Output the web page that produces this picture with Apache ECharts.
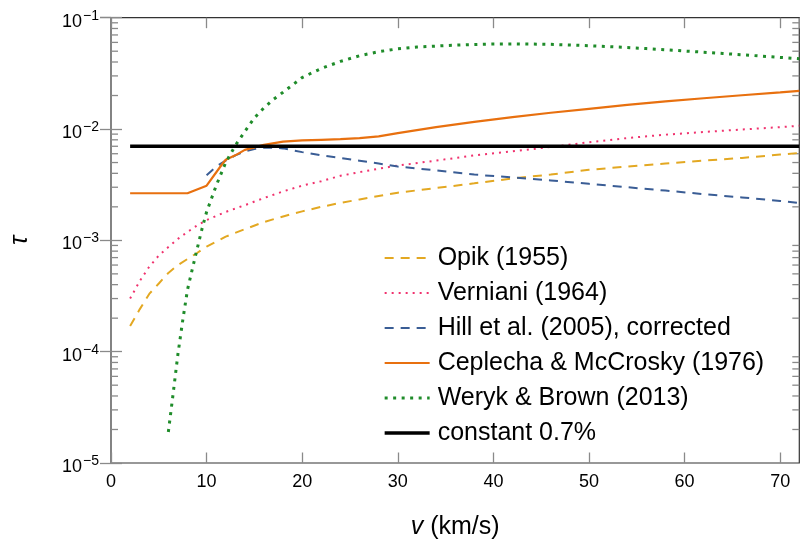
<!DOCTYPE html>
<html>
<head>
<meta charset="utf-8">
<script src="https://cdn.jsdelivr.net/npm/echarts@6/dist/echarts.min.js"></script>
<style>
html,body{margin:0;padding:0;background:#fff;}
#chart{width:800px;height:545px;}
</style>
</head>
<body>
<div id="chart"></div>
<script>
// ---------- data ----------
const seriesNames = ['Opik (1955)', 'Verniani (1964)', 'Hill et al. (2005), corrected',
  'Ceplecha & McCrosky (1976)', 'Weryk & Brown (2013)', 'constant 0.7%'];

const opikV   = [2,3,4,5,6,7,8,9,10,12,14,16,18,20,22,24,26,28,30,34,38,42,46,50,54,58,62,66,70,72];
const opikTau = [0.00017,0.00024,0.00033,0.00041,0.00051,0.0006,0.00068,0.00077,0.00088,0.00108,0.00126,0.00146,0.00164,0.00182,0.002,0.00217,0.00233,0.0025,0.00268,0.00295,0.00325,0.0036,0.0039,0.0043,0.0046,0.0049,0.0052,0.0055,0.0059,0.0061];

const verV   = [2,3,4,5,6,7,8,9,10,12,14,16,18,20,22,24,26,28,30,34,38,42,46,50,54,58,62,66,70,72];
const verTau = [0.0003,0.00043,0.00058,0.00073,0.00087,0.00103,0.00119,0.00136,0.00152,0.0018,0.00207,0.0024,0.00275,0.0031,0.0034,0.0038,0.0041,0.0044,0.0047,0.0052,0.0058,0.0063,0.0069,0.0076,0.0083,0.0089,0.0094,0.0099,0.0104,0.0107];

const hillV   = [10,11,12,13,14,15,16,17,18,20,22,24,26,28,30,34,38,42,46,50,54,58,62,66,70,72];
const hillTau = [0.00385,0.0046,0.0052,0.0058,0.0063,0.0066,0.0068,0.0068,0.0067,0.0062,0.0058,0.0055,0.0052,0.0049,0.0046,0.00425,0.0039,0.00367,0.00345,0.00322,0.003,0.0028,0.0026,0.00243,0.00226,0.00216];

const cepV   = [2,8,10,11.6,12,13,14,16,18,20,22,24,26,28,30,34,38,42,46,50,54,58,62,66,70,72];
const cepTau = [0.00265,0.00265,0.0031,0.0048,0.0053,0.0058,0.0065,0.0072,0.0077,0.0079,0.008,0.0081,0.0083,0.0086,0.0092,0.0104,0.0116,0.0128,0.014,0.0152,0.0165,0.0177,0.0189,0.0201,0.0213,0.022];

const wbV   = [6,6.5,7,7.5,8,8.5,9,9.5,10,11,12,13,14,15,16,17,18,20,22,24,26,28,30,32,34,36,38,40,42,44,46,48,50,52,54,56,58,60,62,64,66,68,70,72];
const wbTau = [1.9e-5,4.2e-5,9.5e-5,0.00019,0.00036,0.00055,0.00083,0.00125,0.0018,0.0031,0.005,0.0071,0.0095,0.0126,0.0155,0.0185,0.0214,0.029,0.035,0.0405,0.0455,0.0495,0.0525,0.0545,0.0556,0.0567,0.0575,0.058,0.0582,0.058,0.0576,0.0569,0.056,0.055,0.054,0.0528,0.0515,0.0502,0.049,0.0477,0.0465,0.0452,0.044,0.0428];

const constV   = [2, 72];
const constTau = [0.007, 0.007];

const minorMult = [2,3,4,5,6,7,8,9];
const decades = [-5,-4,-3,-2];

// ---------- helpers ----------
const zip = (a, b) => a.map((v, i) => [v, b[i]]);
const minorVals = [];
decades.forEach(d => minorMult.forEach(m => minorVals.push(m * Math.pow(10, d))));

const FONT = 'Liberation Sans';
const colors = ['#e3a822', '#f0326e', '#3a5d95', '#e8700f', '#1f8c2a', '#000000'];
const widths = [2, 2, 2, 2.2, 3, 3.3];
const types = [[9, 7], [2, 5], [9, 7], 'solid', [3, 5.5], 'solid'];
const datasets = [zip(opikV, opikTau), zip(verV, verTau), zip(hillV, hillTau),
                  zip(cepV, cepTau), zip(wbV, wbTau), zip(constV, constTau)];

function lineSeries(i) {
  return {
    name: seriesNames[i], type: 'line', data: datasets[i], symbol: 'none', showSymbol: false,
    xAxisIndex: 0, yAxisIndex: 0,
    lineStyle: { color: colors[i], width: widths[i], type: types[i], cap: 'butt' },
    itemStyle: { color: colors[i] },
    emphasis: { disabled: true }, silent: true, z: 3
  };
}

const chart = echarts.init(document.getElementById('chart'), null, { renderer: 'canvas' });

const option = {
  animation: false,
  backgroundColor: '#fff',
  textStyle: { fontFamily: FONT },
  grid: { left: 102.7, top: 17.7, width: 696.6, height: 451.6, show: true,
          borderColor: '#333', borderWidth: 1.2, backgroundColor: 'transparent' },
  legend: {
    data: seriesNames.map((n, i) => ({
      name: n,
      itemStyle: { opacity: 0 },
      lineStyle: { color: colors[i], width: widths[i], type: types[i], cap: 'butt' }
    })),
    orient: 'vertical',
    left: 383, top: 243, padding: 0,
    itemWidth: 45, itemHeight: 14, itemGap: 5,
    itemStyle: { opacity: 0 },
    textStyle: { fontFamily: FONT, fontSize: 25, color: '#000', lineHeight: 30, padding: [0,0,0,3] },
    selectedMode: false
  },
  xAxis: [{
    type: 'value', min: 0, max: 72, interval: 10, position: 'bottom',
    name: '{i|v} (km/s)', nameLocation: 'middle', nameGap: 52,
    nameTextStyle: { fontFamily: FONT, fontSize: 25, color: '#000',
      rich: { i: { fontFamily: FONT, fontSize: 25, fontStyle: 'italic', color: '#000' } } },
    axisLine: { show: false },
    axisTick: { show: true, inside: true, length: 10.5, lineStyle: { color: '#8a8a8a', width: 1.3 } },
    axisLabel: { fontFamily: FONT, fontSize: 18, color: '#000', margin: 10, showMaxLabel: false },
    splitLine: { show: false }
  }, {
    type: 'value', min: 0, max: 72, interval: 10, position: 'top',
    axisLine: { show: false },
    axisTick: { show: true, inside: true, length: 10.5, lineStyle: { color: '#8a8a8a', width: 1.3 } },
    axisLabel: { show: false },
    splitLine: { show: false }
  }],
  yAxis: [{
    type: 'log', logBase: 10, min: 1e-5, max: 1e-1, interval: 1, position: 'left',
    name: 'τ', nameLocation: 'middle', nameGap: 78, nameRotate: 90,
    nameTextStyle: { fontFamily: FONT, fontSize: 25, fontStyle: 'italic', color: '#000' },
    axisLine: { show: false },
    axisTick: { show: true, inside: true, length: 11, lineStyle: { color: '#8a8a8a', width: 1.3 } },
    axisLabel: {
      margin: 12, padding: [8, 0, 0, 0],
      formatter: function (v) {
        const e = Math.round(Math.log10(v));
        return '{b|10}{s|\u2212' + (-e) + '}';
      },
      rich: {
        b: { fontFamily: FONT, fontSize: 18, color: '#000', lineHeight: 26 },
        s: { fontFamily: FONT, fontSize: 14, color: '#000', lineHeight: 14, verticalAlign: 'top', padding: [0,0,0,1] }
      }
    },
    splitLine: { show: false }
  }, {
    type: 'log', logBase: 10, min: 1e-5, max: 1e-1, interval: 1, position: 'right',
    axisLine: { show: false },
    axisTick: { show: true, inside: true, length: 11, lineStyle: { color: '#8a8a8a', width: 1.3 } },
    axisLabel: { show: false },
    splitLine: { show: false }
  }],
  series: [
    {
      name: 'minorTicks', type: 'custom', xAxisIndex: 0, yAxisIndex: 0, silent: true, z: 1,
      data: minorVals.map(v => [0, v]),
      renderItem: function (params, api) {
        const y = api.coord([0, api.value(1)])[1];
        const xl = api.coord([0, api.value(1)])[0];
        const xr = api.coord([72, api.value(1)])[0];
        const st = { stroke: '#8a8a8a', lineWidth: 1.3 };
        return { type: 'group', children: [
          { type: 'line', shape: { x1: xl, y1: y, x2: xl + 7, y2: y }, style: st },
          { type: 'line', shape: { x1: xr, y1: y, x2: xr - 7, y2: y }, style: st }
        ] };
      }
    },
    lineSeries(0), lineSeries(1), lineSeries(2), lineSeries(3), lineSeries(4), lineSeries(5)
  ]
};
chart.setOption(option);
</script>
</body>
</html>
